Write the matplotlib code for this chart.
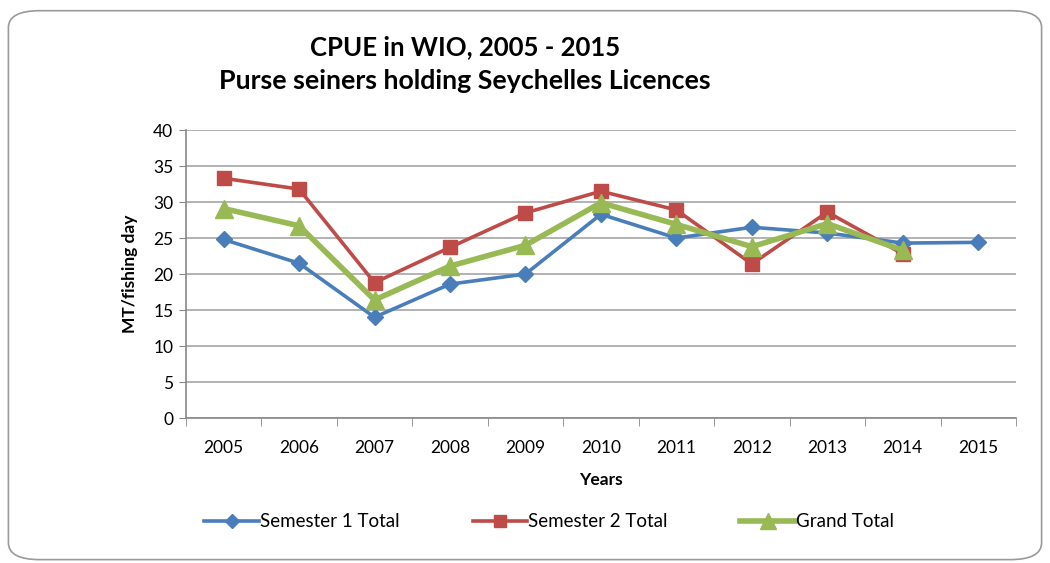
import numpy as np
import matplotlib
matplotlib.use("Agg")
import matplotlib.pyplot as plt
from matplotlib.patches import FancyBboxPatch

years = [2005, 2006, 2007, 2008, 2009, 2010, 2011, 2012, 2013, 2014, 2015]
semester1 = [24.8, 21.5, 14.0, 18.6, 20.0, 28.3, 25.0, 26.5, 25.7, 24.3, 24.4]
semester2 = [33.3, 31.8, 18.8, 23.7, 28.5, 31.5, 28.9, 21.4, 28.6, 22.8]
grand_total = [29.1, 26.7, 16.4, 21.1, 24.0, 29.9, 26.9, 23.8, 27.0, 23.3]

plt.rcParams["font.family"] = ["Lato", "DejaVu Sans"]

fig = plt.figure(figsize=(10.5, 5.63), dpi=100)

# rounded chart border
border = FancyBboxPatch((0.008, 0.006), 0.984, 0.975,
                        boxstyle="round,pad=0,rounding_size=0.03",
                        transform=fig.transFigure, facecolor="none",
                        edgecolor="#9a9a9a", linewidth=1.2, zorder=-10)
fig.patches.append(border)

ax = fig.add_axes([0.177, 0.2575, 0.7906, 0.5115])
ax.set_facecolor("none")

x = np.arange(len(years))
ax.plot(x, semester1, color="#4A7EBB", lw=2.6, marker="D", ms=8,
        label="Semester 1 Total", zorder=3)
ax.plot(x[:len(semester2)], semester2, color="#BE4B48", lw=2.6, marker="s",
        ms=10, label="Semester 2 Total", zorder=4)
ax.plot(x[:len(grand_total)], grand_total, color="#98B954", lw=4, marker="^",
        ms=13, label="Grand Total", zorder=5)

ax.set_xlim(-0.5, len(years) - 0.5)
ax.set_ylim(0, 40)
ax.set_yticks(range(0, 41, 5))
ax.set_xticks(x)
ax.set_xticklabels([str(y) for y in years])
ax.set_xticks(np.arange(-0.5, len(years)), minor=True)
ax.tick_params(axis="x", which="major", length=0, pad=16, labelsize=12.5)
ax.tick_params(axis="x", which="minor", length=6, color="#888888")
ax.tick_params(axis="y", length=5, color="#888888", labelsize=12.5, pad=4)

ax.grid(axis="y", color="#a6a6a6", lw=1.2)
ax.set_axisbelow(True)
for side in ["top", "right"]:
    ax.spines[side].set_visible(False)
for side in ["left", "bottom"]:
    ax.spines[side].set_color("#888888")
    ax.spines[side].set_linewidth(1.2)

ax.set_xlabel("Years", fontsize=12.5, fontweight="bold", labelpad=11)
ax.set_ylabel("MT/fishing day", fontsize=12.5, fontweight="bold", labelpad=11)

fig.text(0.443, 0.917, "CPUE in WIO, 2005 - 2015", ha="center", va="center",
         fontsize=18.5, fontweight="bold")
fig.text(0.443, 0.857, "Purse seiners holding Seychelles Licences",
         ha="center", va="center", fontsize=19.3, fontweight="bold")

fig.legend(loc="center", bbox_to_anchor=(0.523, 0.073), ncol=3,
           frameon=False, fontsize=13.5, handlelength=2.9, handletextpad=0.05,
           columnspacing=3.9, markerscale=0.85)

fig.savefig("out.png", dpi=100)
